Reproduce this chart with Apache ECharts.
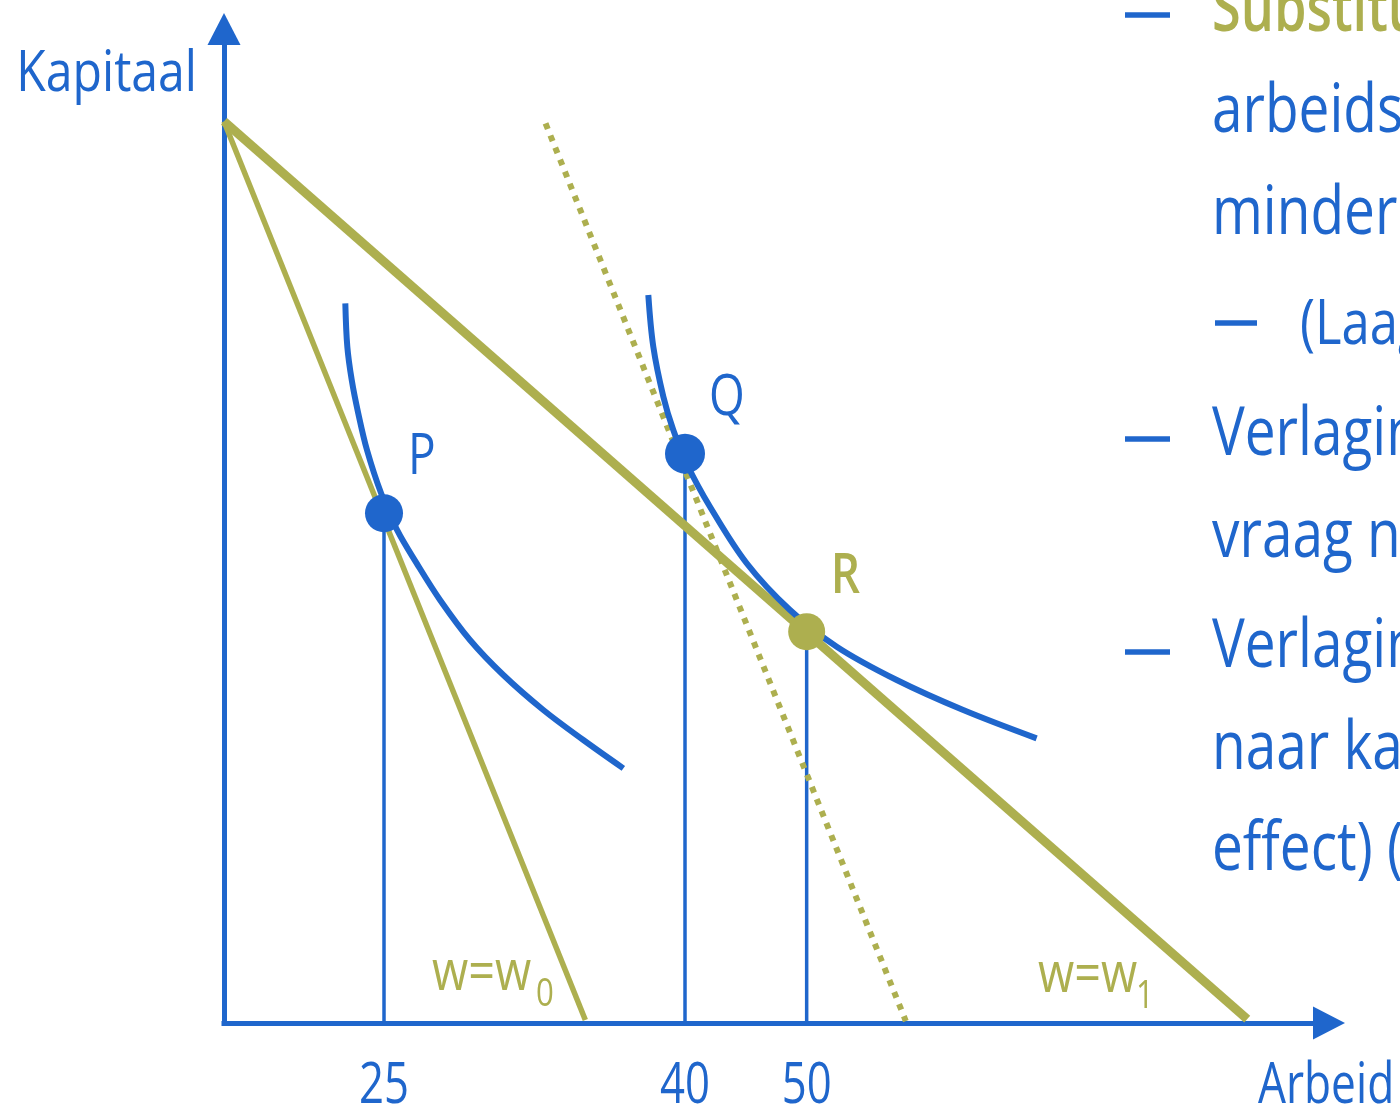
<!DOCTYPE html>
<html>
<head>
<meta charset="utf-8">
<script src="https://cdn.jsdelivr.net/npm/echarts@6/dist/echarts.min.js"></script>
<style>
html,body{margin:0;padding:0;background:#fff;}
#c{width:1400px;height:1108px;}
</style>
</head>
<body>
<div id="c"></div>
<script>
// ---- data (schematic units: x 0..100 Arbeid, y 0..100 Kapitaal) ----
const pointNames = ['P', 'Q', 'R'];
const pointX = [14.48, 41.72, 52.73];
const pointY = [51.28, 57.28, 39.37];
const tickLabels = ['25', '40', '50'];

const budgetW0 = [[0, 90.7], [32.7, 0.3]];
const budgetW1 = [[0, 90.7], [92.6, 0.4]];
const budgetW0Shifted = [[29.1, 90.5], [61.7, 0.2]];

const isoquant1 = [
  [10.98, 72.40], [11.16, 68.04], [11.56, 64.69], [12.15, 61.34], [12.94, 57.65],
  [14.21, 53.32], [15.66, 49.60], [17.44, 46.24], [19.55, 42.56], [22.26, 38.53],
  [25.28, 35.01], [28.90, 31.49], [32.52, 28.47], [36.14, 25.62]
];
const isoquant2 = [
  [38.40, 73.24], [38.85, 68.04], [39.76, 63.01], [40.66, 59.66], [41.93, 56.14],
  [43.98, 51.94], [47.30, 46.25], [51.22, 41.55], [55.45, 37.86], [60.88, 34.51],
  [66.90, 31.49], [73.54, 28.64]
];

const budgetLabels = ['w=w', '0', 'w=w', '1'];
const axisNames = ['Arbeid', 'Kapitaal'];
const sideText = [
  'Substitutie-effect',
  'arbeidsintensiever',
  'minder kapitaal',
  '(Laagbetaald werk)',
  'Verlaging kosten',
  'vraag naar arbeid',
  'Verlaging kosten',
  'naar kapitaal',
  'effect) (R)'
];

// ---- styles ----
const BLUE = '#1F66CC';
const OLIVE = '#ADAF4F';
const FONT = "'Open Sans', 'Noto Sans', sans-serif";
const SX = 0.82;          // horizontal condensing of the typeface
const MID = 0.262;        // baseline offset below 'middle' (fraction of font size)

const chart = echarts.init(document.getElementById('c'), null, { renderer: 'canvas' });

function bl(baseline, fs) { return baseline - MID * fs; }

function txt(str, x, y, fs, color, opts) {
  opts = opts || {};
  return {
    type: 'text', x: x, y: y, z: 100, scaleX: opts.sx || SX,
    style: {
      text: str, fill: color,
      fontSize: fs, fontFamily: FONT, fontWeight: opts.weight || 'normal',
      align: opts.align || 'left', verticalAlign: 'middle'
    }
  };
}
function dash(x, yc, w) {
  return { type: 'rect', z: 100, shape: { x: x, y: yc - 2.7, width: w, height: 5.4 }, style: { fill: BLUE } };
}

const mainFs = 67;
const graphics = [
  txt(axisNames[1], 197, bl(90, 56), 56, BLUE, { align: 'right', sx: 0.86 }),
  txt(axisNames[0], 1258, bl(1102, 56), 56, BLUE, { sx: 0.79 }),
  txt(budgetLabels[0], 432, bl(989, 57), 57, OLIVE),
  txt(budgetLabels[1], 536, bl(1005, 38), 38, OLIVE),
  txt(budgetLabels[2], 1038, bl(991, 57), 57, OLIVE),
  txt(budgetLabels[3], 1136, bl(1007, 38), 38, OLIVE),
  dash(1125, 15, 45),
  txt(sideText[0], 1212, bl(29, mainFs), mainFs, OLIVE, { weight: 600, sx: 0.78 }),
  txt(sideText[1], 1212, bl(130, mainFs), mainFs, BLUE),
  txt(sideText[2], 1212, bl(232, mainFs), mainFs, BLUE),
  dash(1215, 323, 42),
  txt(sideText[3], 1300, bl(343, 62), 62, BLUE),
  dash(1125, 439, 45),
  txt(sideText[4], 1212, bl(453, mainFs), mainFs, BLUE),
  txt(sideText[5], 1212, bl(555, mainFs), mainFs, BLUE),
  dash(1125, 652, 45),
  txt(sideText[6], 1212, bl(665, mainFs), mainFs, BLUE),
  txt(sideText[7], 1212, bl(767, mainFs), mainFs, BLUE),
  txt(sideText[8], 1212, bl(868, mainFs), mainFs, BLUE)
];

const verticals = pointX.map((x, i) => ({
  type: 'line', silent: true, symbol: 'none', z: 2,
  data: [[x, pointY[i]], [x, 0]],
  lineStyle: { color: BLUE, width: 3.5 }
}));

const pointColors = [BLUE, BLUE, OLIVE];
const pointSizes = [38, 40, 37];

const option = {
  animation: false,
  backgroundColor: '#fff',
  grid: { left: 224, right: 71, top: 29, bottom: 85, containLabel: false },
  xAxis: {
    type: 'value', min: 0, max: 100,
    splitLine: { show: false },
    axisTick: { show: false },
    axisLabel: { show: false },
    axisLine: {
      show: true, onZero: false,
      symbol: ['none', 'triangle'], symbolSize: [33, 32],
      lineStyle: { color: BLUE, width: 5, cap: 'square' }
    }
  },
  yAxis: {
    type: 'value', min: 0, max: 100,
    splitLine: { show: false },
    axisTick: { show: false },
    axisLabel: { show: false },
    axisLine: {
      show: true, onZero: false,
      symbol: ['none', 'triangle'], symbolSize: [33, 32],
      lineStyle: { color: BLUE, width: 5, cap: 'square' }
    }
  },
  graphic: graphics,
  series: [
    ...verticals,
    {
      type: 'line', name: 'w0 shifted', symbol: 'none', silent: true, z: 3,
      data: budgetW0Shifted,
      lineStyle: { color: OLIVE, width: 6, type: [6, 7], cap: 'butt' }
    },
    {
      type: 'line', name: 'w0', symbol: 'none', silent: true, z: 3,
      data: budgetW0,
      lineStyle: { color: OLIVE, width: 5.5 }
    },
    {
      type: 'line', name: 'w1', symbol: 'none', silent: true, z: 3,
      data: budgetW1,
      lineStyle: { color: OLIVE, width: 9 }
    },
    {
      type: 'line', name: 'isoquant1', symbol: 'none', silent: true, z: 4,
      smooth: 0.35, data: isoquant1,
      lineStyle: { color: BLUE, width: 6 }
    },
    {
      type: 'line', name: 'isoquant2', symbol: 'none', silent: true, z: 4,
      smooth: 0.35, data: isoquant2,
      lineStyle: { color: BLUE, width: 6 }
    },
    {
      type: 'scatter', name: 'points', z: 5, silent: true,
      data: pointNames.map((n, i) => ({
        name: n,
        value: [pointX[i], pointY[i]],
        symbolSize: pointSizes[i],
        itemStyle: { color: pointColors[i], opacity: 1 }
      }))
    },
    {
      // point names P, Q, R
      type: 'custom', name: 'pointLabels', z: 6, silent: true, clip: false,
      data: pointNames.map((n, i) => [pointX[i], pointY[i]]),
      renderItem: function (params, api) {
        const i = params.dataIndex;
        const p = api.coord([api.value(0), api.value(1)]);
        return {
          type: 'text', x: p[0] + 24, y: p[1] - 55, scaleX: SX,
          style: {
            text: pointNames[i], fill: pointColors[i],
            fontSize: 56, fontFamily: FONT, fontWeight: i === 2 ? 600 : 'normal',
            align: 'left', verticalAlign: 'middle'
          }
        };
      }
    },
    {
      // x tick labels under the vertical lines
      type: 'custom', name: 'tickLabels', z: 6, silent: true, clip: false,
      data: pointX.map(x => [x, 0]),
      renderItem: function (params, api) {
        const i = params.dataIndex;
        const p = api.coord([api.value(0), 0]);
        return {
          type: 'text', x: p[0], y: p[1] + 79 - MID * 56, scaleX: 0.78,
          style: {
            text: tickLabels[i], fill: BLUE,
            fontSize: 56, fontFamily: FONT,
            align: 'center', verticalAlign: 'middle'
          }
        };
      }
    }
  ]
};
chart.setOption(option);
</script>
</body>
</html>
